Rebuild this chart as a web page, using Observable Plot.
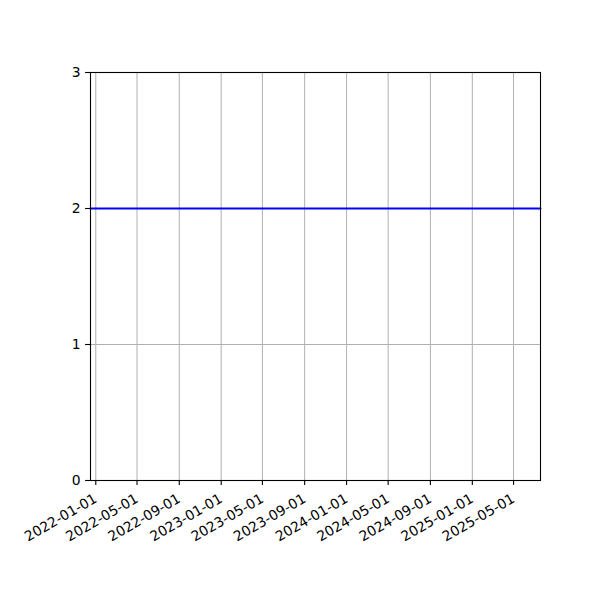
<!DOCTYPE html>
<html>
<head>
<meta charset="utf-8">
<script src="https://cdn.jsdelivr.net/npm/d3@7"></script>
<script src="https://cdn.jsdelivr.net/npm/@observablehq/plot@0.6"></script>
<style>
  html, body { margin: 0; padding: 0; background: #fff; }
  #chart svg { display: block; }
</style>
</head>
<body>
<div id="chart"></div>
<script>
// Data
const lineDates = ["2021-12-16T14:00:00Z", "2025-07-18T12:00:00Z"];
const lineValues = [2, 2];
const xTickLabels = ["2022-01-01", "2022-05-01", "2022-09-01", "2023-01-01", "2023-05-01",
  "2023-09-01", "2024-01-01", "2024-05-01", "2024-09-01", "2025-01-01", "2025-05-01"];
const yTicks = [0, 1, 2, 3];
const xDomain = ["2021-12-16T14:00:00Z", "2025-07-18T12:00:00Z"];
const yDomain = [0, 3];

const lineData = lineDates.map((d, i) => ({date: new Date(d), value: lineValues[i]}));
const xTicks = xTickLabels.map(s => new Date(s + "T00:00:00Z"));
const fmt = d3.utcFormat("%Y-%m-%d");

const chart = Plot.plot({
  width: 600,
  height: 600,
  marginLeft: 90,
  marginRight: 60,
  marginTop: 72,
  marginBottom: 120,
  style: {fontFamily: "DejaVu Sans", fontSize: "13.9px", color: "black", background: "white"},
  x: {type: "utc", domain: xDomain.map(d => new Date(d)), axis: null},
  y: {domain: yDomain, axis: null},
  marks: [
    Plot.gridX(xTicks, {stroke: "#b0b0b0", strokeOpacity: 1, strokeWidth: 1}),
    Plot.gridY([1, 2], {stroke: "#b0b0b0", strokeOpacity: 1, strokeWidth: 1}),
    Plot.line(lineData, {x: "date", y: "value", stroke: "#0000ff", strokeWidth: 2}),
    Plot.frame({stroke: "black", strokeWidth: 1.1}),
    Plot.axisX({ticks: xTicks, tickSize: 4.9, tickFormat: () => "", label: null, stroke: "black", strokeWidth: 1.1}),
    Plot.text(xTicks, {x: d => d, frameAnchor: "bottom", text: d => fmt(d), rotate: -30,
      textAnchor: "end", lineAnchor: "middle", dy: 17, dx: 0, fontSize: 13.9, fill: "black"}),
    Plot.axisY({ticks: yTicks, tickSize: 4.9, tickPadding: 4.9, tickFormat: d3.format("d"),
      label: null, fontSize: 13.9, stroke: "black", strokeWidth: 1.1, fill: "black"})
  ]
});
document.getElementById("chart").appendChild(chart);
</script>
</body>
</html>
